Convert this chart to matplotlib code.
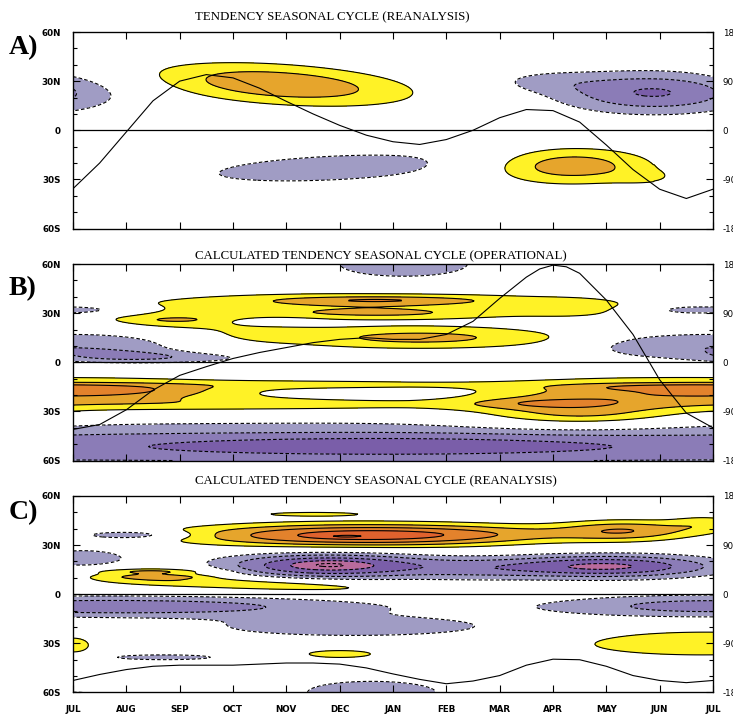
# Seasonal cycle of tendency - three panels (reanalysis, operational, calculated)
import numpy as np
import matplotlib
matplotlib.use("Agg")
import matplotlib.pyplot as plt
from matplotlib.ticker import MultipleLocator

# Month labels along the x axis (JUL to JUL)
month_labels = ["JUL", "AUG", "SEP", "OCT", "NOV", "DEC", "JAN",
                "FEB", "MAR", "APR", "MAY", "JUN", "JUL"]

# Shaded field read from the picture as a set of blobs per panel:
# centre month, centre latitude, month width, latitude width, amplitude, tilt (deg per month)
a_month = [10.9, 8.8, 3.9, 4.9, 9.3, 10.8]
a_lat = [23, 30, 28, -23, -21.5, -29]
a_wid = [1.3, 0.8, 1.71, 2.4, 1.1, 0.45]
a_hgt = [9, 5, 8.5, 8, 8, 3.5]
a_amp = [-3.1, -0.9, 2.87, -1.5, 2.8, 0.7]
a_tilt = [0, 0, -2.0, 1.5, 0, 0]

b_month = [0.3, 0.9, 2.2, 10.6, 11.95, 6.2,
           5.5, 5.7, 5.8, 6.5, 2.0, 1.9, 3.7, 3.6, 9.4,
           0.3, 0.8, 11.0, 9.3, 8.8, 5.0, 4.5, 9.5,
           6.0, 5.8]
b_lat = [10, 4, 2.5, 10, 32, 60,
         35, 38, 29.5, 15, 25, 26, 25, 17, 33,
         -19, -17, -15, -24, -25, -13.5, -26, -33,
         -52, -51]
b_wid = [1.3, 0.8, 1.1, 0.8, 0.9, 1.1,
         3.5, 1.3, 1.4, 2.0, 1.3, 0.35, 0.6, 0.7, 0.7,
         2.2, 1.3, 1.3, 1.6, 0.9, 2.2, 2.5, 1.3,
         100, 3.2]
b_hgt = [7, 2.5, 2.5, 5, 2.2, 7,
         6, 1.6, 2.0, 5, 4.5, 0.9, 2, 3.5, 4,
         7, 2.5, 1.5, 9, 2, 2, 3, 5,
         11, 4.5]
b_amp = [-1.8, -1.0, -1.1, -1.0, -2.2, -1.8,
         1.9, 1.45, 0.9, 2.3, 1.4, 0.7, -1.0, 0.8, 0.8,
         2.4, 1.0, 1.0, 1.6, 0.9, 1.3, 1.4, 1.4,
         -2.5, -1.3]
b_tilt = [0] * 25

c_month = [5.3, 10.4, 8.0, 11.9, 4.5, 5.1,
           4.8, 10.0, 7.5, 0.2, 1.1, 4.8,
           1.5, 1.5, 1.7, 3.5,
           0.7, 12.0, 5.3, 1.7, 5.6, 0.0, 12.0,
           11.8, 0.0, 5.0]
c_lat = [36, 39, 37, 43, 49, 35.4,
         17.5, 17, 15, 22, 36.2, 18,
         12, 14, 10.6, 6,
         -7.5, -7.3, -20, -38.5, -60, -62, -63,
         -30, -31, -36.5]
c_wid = [2.2, 0.9, 1.5, 0.5, 1.0, 0.25,
         1.4, 1.5, 1.0, 0.7, 0.7, 0.4,
         0.9, 0.8, 0.55, 2.0,
         3.4, 2.2, 2.2, 0.9, 1.24, 0.7, 0.5,
         1.9, 0.3, 0.6]
c_hgt = [5, 4.5, 4, 4, 1.3, 0.5,
         5.5, 5, 5, 5, 1.9, 1.5,
         3.5, 1.0, 0.8, 3.0,
         4.5, 5, 5, 1.5, 7, 3, 3,
         6.5, 4.5, 2.2]
c_amp = [4.5, 2.6, 0.8, 1.3, 1.2, 0.8,
         -4.4, -4.2, -1.2, -1.6, -2.3, -0.8,
         1.6, 1.0, 0.8, 1.8,
         -2.8, -2.5, -1.7, -1.6, -1.6, -1.3, -1.3,
         1.8, 1.6, 1.6]
c_tilt = [0] * 15 + [-1.0] + [0] * 10

# Black curve (right axis units) for each panel
a_curve_month = [0, 0.5, 1, 1.5, 2, 2.5, 3, 3.5, 4, 4.5, 5, 5.5, 6, 6.5, 7, 7.5,
                 8, 8.5, 9, 9.5, 10, 10.5, 11, 11.5, 12]
a_curve = [-107, -60, -3, 54, 90, 102, 96, 77, 53, 30, 9, -9, -21, -26, -17, 0,
           23, 38, 36, 15, -27, -72, -108, -125, -108]
b_curve_month = [0, 0.5, 1, 1.5, 2, 2.5, 3, 3.5, 4, 4.5, 5, 5.5, 6, 6.5, 7, 7.5,
                 8, 8.5, 8.75, 9, 9.25, 9.5, 10, 10.5, 11, 11.5, 12]
b_curve = [-123, -114, -87, -51, -24, -8, 7, 18, 27, 36, 42, 45, 42, 42, 51, 75,
           117, 156, 171, 178, 175, 163, 114, 51, -32, -93, -120]
c_curve_month = a_curve_month
c_curve = [-158, -147, -138, -132, -130, -130, -130, -128, -126, -126, -128, -135,
           -146, -156, -164, -159, -149, -130, -119, -120, -132, -149, -158, -162, -158]

titles = ["TENDENCY SEASONAL CYCLE (REANALYSIS)",
          "CALCULATED TENDENCY SEASONAL CYCLE (OPERATIONAL)",
          "CALCULATED TENDENCY SEASONAL CYCLE (REANALYSIS)"]
letters = ["A)", "B)", "C)"]

# Shading colours from negative to positive
fill_colors = ["#b96b9c", "#7a5ea9", "#8b7cb7", "#a09cc4", "#ffffff",
               "#fff226", "#e6a52c", "#e3822c", "#e0622e"]
fill_levels = [-99, -4, -3, -2, -1, 1, 2, 3, 4, 99]


def build_field(months, lats, wid, hgt, amp, tilt, M, L, cyclic):
    z = np.zeros_like(M)
    for mc, lc, sx, sy, a, t in zip(months, lats, wid, hgt, amp, tilt):
        if cyclic:
            dm = (M - mc + 6) % 12 - 6  # JUL joins JUL
        else:
            dm = M - mc
        dl = L - lc - t * dm
        z += a * np.exp(-0.5 * ((dm / sx) ** 2 + (dl / sy) ** 2))
    return z


def draw_panel(ax, z, M, L, cm, cv, show_months):
    ax.contourf(M, L, z, levels=fill_levels, colors=fill_colors)
    ax.contour(M, L, z, levels=[-5, -4, -3, -2, -1], colors="k",
               linewidths=0.8, linestyles=[(0, (3.2, 2))])
    ax.contour(M, L, z, levels=[1, 2, 3, 4, 5], colors="k",
               linewidths=0.8, linestyles="solid")
    ax.axhline(0, color="k", lw=0.9)

    ax.set_xlim(0, 12)
    ax.set_ylim(-60, 60)
    ax.set_yticks([-60, -30, 0, 30, 60])
    ax.set_yticklabels(["60S", "30S", "0", "30N", "60N"])
    ax.yaxis.set_minor_locator(MultipleLocator(10))
    ax.set_xticks(range(13))
    if show_months:
        ax.set_xticklabels(month_labels)
    else:
        ax.set_xticklabels([])
    ax.tick_params(axis="both", which="major", direction="in", length=5,
                   width=0.8, top=True, labelsize=6.3, pad=9)
    ax.tick_params(axis="y", which="minor", direction="in", length=3, width=0.8)
    for lab in ax.get_xticklabels() + ax.get_yticklabels():
        lab.set_fontweight("bold")
    for s in ax.spines.values():
        s.set_linewidth(0.9)

    ax2 = ax.twinx()
    ax2.plot(cm, cv, color="k", lw=0.8)
    ax2.set_ylim(-180, 180)
    ax2.set_yticks([-180, -90, 0, 90, 180])
    ax2.set_yticklabels(["-180", "-90", "0", "90", "180"])
    ax2.yaxis.set_minor_locator(MultipleLocator(30))
    ax2.tick_params(axis="y", which="major", direction="in", length=5,
                    width=0.8, labelsize=6.3, pad=7)
    ax2.tick_params(axis="y", which="minor", direction="in", length=3, width=0.8)


def main():
    fig = plt.figure(figsize=(7.33, 7.15), dpi=100)
    months = np.linspace(0, 12, 601)
    lats = np.linspace(-60, 60, 241)
    M, L = np.meshgrid(months, lats)

    fields = [
        build_field(a_month, a_lat, a_wid, a_hgt, a_amp, a_tilt, M, L, True),
        build_field(b_month, b_lat, b_wid, b_hgt, b_amp, b_tilt, M, L, True),
        build_field(c_month, c_lat, c_wid, c_hgt, c_amp, c_tilt, M, L, False),
    ]
    curves = [(a_curve_month, a_curve), (b_curve_month, b_curve),
              (c_curve_month, c_curve)]
    bottoms = [0.6804, 0.3559, 0.0315]
    title_y = [0.976, 0.642, 0.3263]
    letter_y = [0.933, 0.597, 0.2825]

    for i in range(3):
        ax = fig.add_axes([0.0996, bottoms[i], 0.8731, 0.2748])
        draw_panel(ax, fields[i], M, L, curves[i][0], curves[i][1], i == 2)
        fig.text(0.266, title_y[i], titles[i], ha="left", va="center",
                 family="Liberation Serif", fontsize=9.3)
        fig.text(0.012, letter_y[i], letters[i], ha="left", va="center",
                 family="Liberation Serif", fontsize=20, fontweight="bold")

    fig.savefig("out.png", dpi=100)


if __name__ == "__main__":
    main()
